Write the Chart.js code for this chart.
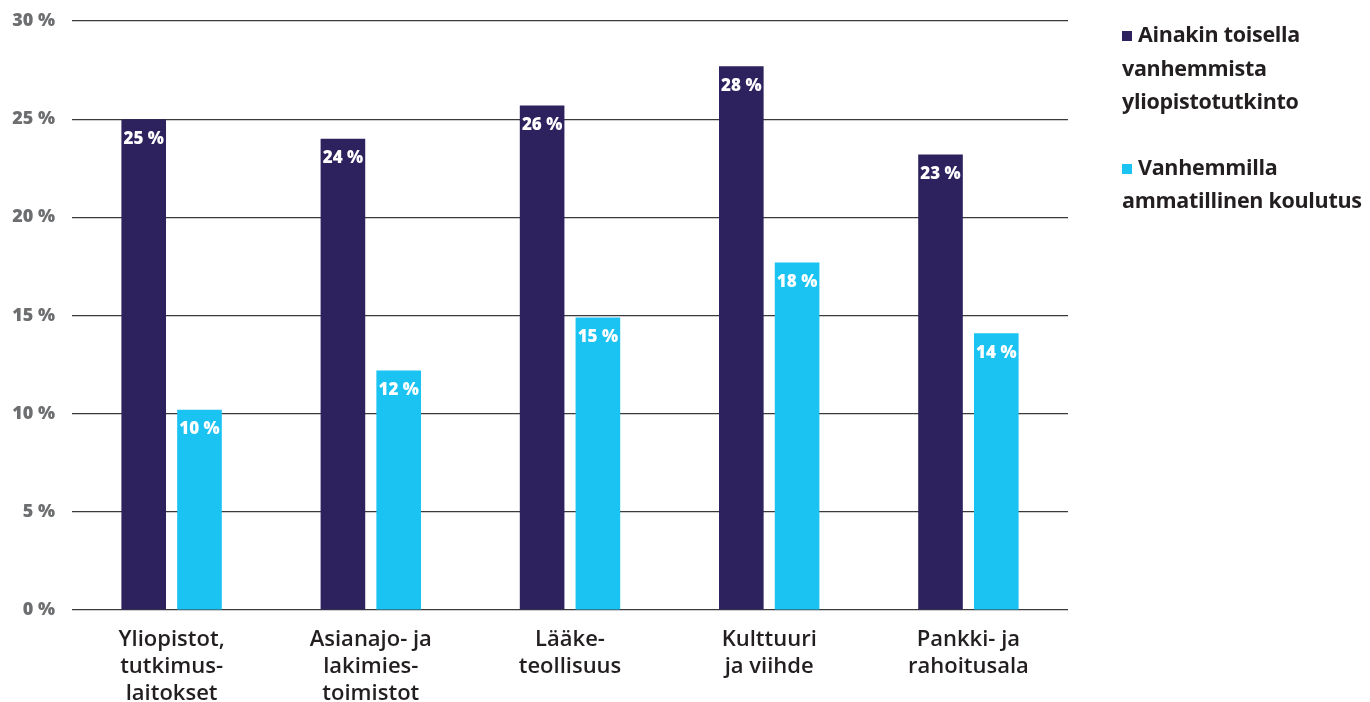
<!DOCTYPE html>
<html>
<head>
<meta charset="utf-8">
<script src="https://cdn.jsdelivr.net/npm/chart.js@4"></script>
<style>
  html, body { margin: 0; padding: 0; background: #fff; }
  #wrap { position: relative; width: 1370px; height: 702px; }
  #legend { position: absolute; left: 1122px; top: 17px; font-family: "Open Sans", Lato, sans-serif; font-weight: 700; font-size: 21.5px; line-height: 33.5px; color: #231f20; letter-spacing: -0.3px; white-space: nowrap; }
  .item { margin-bottom: 32px; }
  .sw { display: inline-block; width: 10px; height: 10px; margin-right: 6px; vertical-align: 1px; }
</style>
</head>
<body>
<div id="wrap">
  <canvas id="c" width="1370" height="702"></canvas>
  <div id="legend"></div>
</div>
<script>
const categories = [
  ["Yliopistot,", "tutkimus-", "laitokset"],
  ["Asianajo- ja", "lakimies-", "toimistot"],
  ["Lääke-", "teollisuus"],
  ["Kulttuuri", "ja viihde"],
  ["Pankki- ja", "rahoitusala"]
];
const seriesNames = [
  ["Ainakin toisella", "vanhemmista", "yliopistotutkinto"],
  ["Vanhemmilla", "ammatillinen koulutus"]
];
const universityParents = [25.0, 24.0, 25.7, 27.7, 23.2];
const vocationalParents = [10.2, 12.2, 14.9, 17.7, 14.1];
const yTicks = [0, 5, 10, 15, 20, 25, 30];
const colors = ["#2e225e", "#1bc3f2"];

// HTML legend built from series names
const leg = document.getElementById('legend');
seriesNames.forEach((lines, i) => {
  const d = document.createElement('div');
  d.className = 'item';
  d.innerHTML = '<span class="sw" style="background:' + colors[i] + '"></span>' + lines.join('<br>');
  leg.appendChild(d);
});

const valueLabels = {
  id: 'valueLabels',
  afterDatasetsDraw(chart) {
    const ctx = chart.ctx;
    ctx.save();
    ctx.fillStyle = '#ffffff';
    ctx.font = '800 17px "Open Sans", Lato, sans-serif';
    ctx.textAlign = 'center';
    ctx.textBaseline = 'top';
    chart.data.datasets.forEach((ds, di) => {
      chart.getDatasetMeta(di).data.forEach((bar, i) => {
        ctx.fillText(Math.round(ds.data[i]) + ' %', bar.x, bar.y + 11);
      });
    });
    ctx.restore();
  }
};

new Chart(document.getElementById('c'), {
  type: 'bar',
  data: {
    labels: categories,
    datasets: [
      { label: seriesNames[0].join(' '), data: universityParents, backgroundColor: colors[0] },
      { label: seriesNames[1].join(' '), data: vocationalParents, backgroundColor: colors[1] }
    ]
  },
  options: {
    responsive: false,
    animation: false,
    devicePixelRatio: 1,
    layout: { padding: { left: 0, right: 302, top: 21, bottom: 0 } },
    datasets: { bar: { categoryPercentage: 0.56, barPercentage: 0.8 } },
    plugins: { legend: { display: false }, tooltip: { enabled: false } },
    scales: {
      x: {
        grid: { display: false, drawTicks: false },
        border: { display: false },
        afterFit(s) { s.height = 92; s.paddingLeft = 0; s.paddingRight = 0; },
        ticks: {
          color: '#231f20',
          padding: 16,
          maxRotation: 0,
          font: { family: '"Open Sans", Lato, sans-serif', size: 22, weight: '600', lineHeight: 1.23 }
        }
      },
      y: {
        min: 0, max: 30,
        afterFit(s) { s.width = 72; s.paddingTop = 0; s.paddingBottom = 0; },
        afterBuildTicks(s) { s.ticks = yTicks.map(v => ({ value: v })); },
        grid: { color: '#3a3a3a', lineWidth: 1.2, drawTicks: false },
        border: { display: false },
        ticks: {
          color: '#6d6e70',
          padding: 17,
          font: { family: '"Open Sans", Lato, sans-serif', size: 18, weight: '800' },
          callback: v => v + ' %'
        }
      }
    }
  },
  plugins: [valueLabels]
});
</script>
</body>
</html>
